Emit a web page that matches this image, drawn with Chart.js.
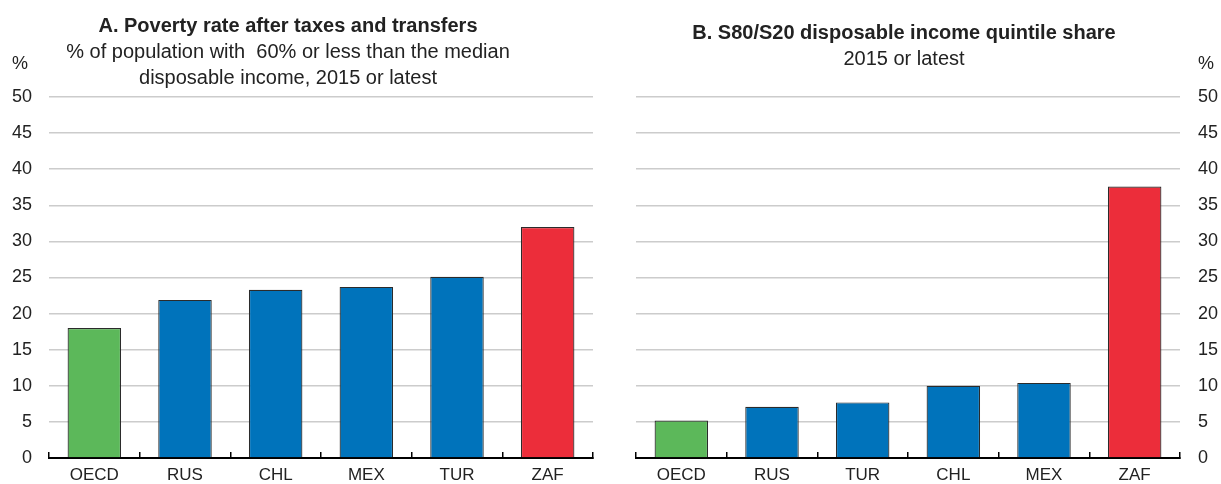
<!DOCTYPE html>
<html>
<head>
<meta charset="utf-8">
<script src="https://cdn.jsdelivr.net/npm/chart.js@4/dist/chart.umd.min.js"></script>
<style>
  html, body { margin: 0; padding: 0; background: #fff; }
  body { width: 1221px; height: 484px; position: relative; overflow: hidden;
         font-family: "Liberation Sans", Arial, sans-serif; color: #222; }
  .panel { position: absolute; top: 0; height: 484px; }
  #panelA { left: 0; width: 610px; }
  #panelB { left: 610px; width: 611px; }
  .title { position: absolute; text-align: center; white-space: nowrap; font-size: 20px; line-height: 26px; }
  .title b { font-weight: bold; }
  .unit { position: absolute; top: 53px; font-size: 18px; }
</style>
</head>
<body>
<div class="panel" id="panelA"><canvas id="chartA"></canvas></div>
<div class="panel" id="panelB"><canvas id="chartB"></canvas></div>
<div class="title" style="left:38px;width:500px;top:12px;">
  <b>A. Poverty rate after taxes and transfers</b><br>
  % of population with&nbsp; 60% or less than the median<br>
  disposable income, 2015 or latest
</div>
<div class="title" style="left:654px;width:500px;top:19px;">
  <b>B. S80/S20 disposable income quintile share</b><br>
  2015 or latest
</div>
<div class="unit" style="left:12px;">%</div>
<div class="unit" style="left:1198px;">%</div>
<script>
// panel A: poverty rate, % of population
const catsA = ["OECD", "RUS", "CHL", "MEX", "TUR", "ZAF"];
const valsA = [18.0, 21.9, 23.3, 23.7, 25.1, 32.0];
// panel B: S80/S20 ratio
const catsB = ["OECD", "RUS", "TUR", "CHL", "MEX", "ZAF"];
const valsB = [5.2, 7.1, 7.7, 10.0, 10.4, 37.6];
const yMin = 0, yMax = 50, yStep = 5;

const GREEN = "#5cb85a", BLUE = "#0073bb", RED = "#ec2d3a";

function barColor(cat) {
  if (cat === "OECD") return GREEN;
  if (cat === "ZAF") return RED;
  return BLUE;
}

Chart.defaults.font.family = '"Liberation Sans", Arial, sans-serif';
Chart.defaults.font.size = 18;
Chart.defaults.color = "#222";

function makeChart(id, cats, vals, side) {
  const left = side === "left";
  return new Chart(document.getElementById(id), {
    type: "bar",
    data: {
      labels: cats,
      datasets: [{
        data: vals,
        backgroundColor: cats.map(barColor),
        borderColor: "#2b2b2b",
        borderWidth: 1.2,
        barPercentage: 0.59,
        categoryPercentage: 1,
      }],
    },
    options: {
      responsive: true,
      maintainAspectRatio: false,
      animation: false,
      layout: { padding: left ? { top: 97, right: 17, left: 0, bottom: 0 } : { top: 97, right: 0, left: 26, bottom: 0 } },
      plugins: { legend: { display: false }, tooltip: { enabled: false } },
      scales: {
        x: {
          offset: true,
          grid: { display: true, offset: true, drawOnChartArea: false, drawTicks: true, tickLength: -6, color: "#000", lineWidth: 1.5 },
          border: { display: true, color: "#000", width: 2 },
          ticks: { padding: 13, maxRotation: 0, font: { size: 17 } },
          afterFit: (s) => { s.height = 26; },
        },
        y: {
          position: side,
          min: yMin,
          max: yMax,
          ticks: { stepSize: yStep, padding: left ? 17 : 18 },
          grid: { color: "#cccccc", lineWidth: 1.5, drawTicks: false },
          border: { display: false },
          afterFit: (s) => {
            s.width = left ? 49 : 41;
            // labels sit beside the plot, no need to reserve space above/below it
            s.paddingTop = 0;
            s.paddingBottom = 0;
          },
        },
      },
    },
  });
}

makeChart("chartA", catsA, valsA, "left");
makeChart("chartB", catsB, valsB, "right");
</script>
</body>
</html>
